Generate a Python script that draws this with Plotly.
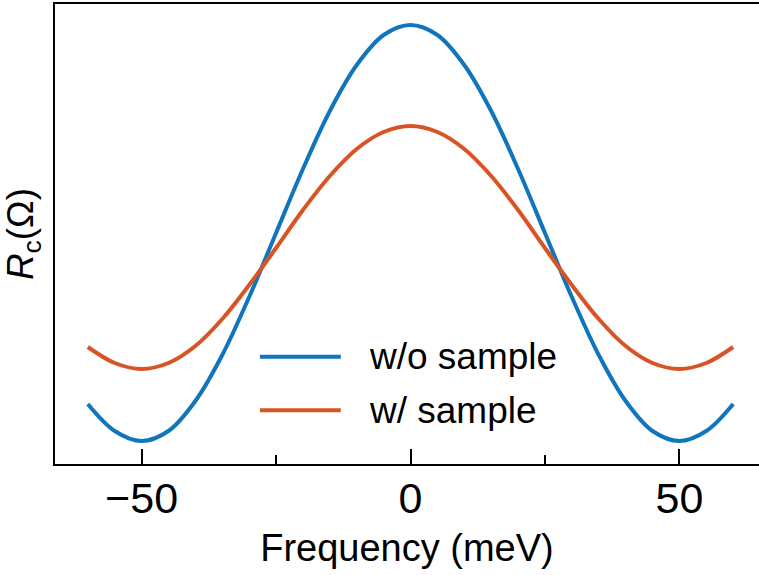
import plotly.graph_objects as go

# Data (arbitrary resistance units)
freq = [-60, -55, -50, -45, -40, -35, -30, -25, -20, -15, -10, -5, 0,
        5, 10, 15, 20, 25, 30, 35, 40, 45, 50, 55, 60]
r_without = [60, 33, 23, 33, 63, 109, 167, 231, 295, 353, 399, 429, 439,
             429, 399, 353, 295, 231, 167, 109, 63, 33, 23, 33, 60]
r_with = [117, 101, 95, 101, 118, 145, 179, 216, 254, 288, 315, 332, 338,
          332, 315, 288, 254, 216, 179, 145, 118, 101, 95, 101, 117]

series_names = ["w/o sample", "w/ sample"]
series_colors = ["#1075bc", "#d95424"]

major_ticks = [-50, 0, 50]
major_labels = ["\u221250", "0", "50"]
minor_ticks = [-25, 25]

FONT = "Arial, Liberation Sans, sans-serif"

fig = go.Figure()
for yv, name, col in zip([r_without, r_with], series_names, series_colors):
    fig.add_trace(go.Scatter(x=freq, y=yv, mode="lines", name=name,
                             line=dict(color=col, width=4, shape="spline", smoothing=1.0),
                             showlegend=False))

# custom legend (long line samples)
leg_y = [0.233, 0.117]
for name, col, ly in zip(series_names, series_colors, leg_y):
    fig.add_shape(type="line", xref="paper", yref="paper",
                  x0=0.291, x1=0.406, y0=ly, y1=ly,
                  line=dict(color=col, width=4))
    fig.add_annotation(xref="paper", yref="paper", x=0.443, y=ly,
                       text=name, showarrow=False, xanchor="left", yanchor="middle",
                       font=dict(family=FONT, size=37, color="black"))

fig.update_layout(
    width=759, height=575,
    margin=dict(l=55, r=0, t=4, b=111, autoexpand=False),
    paper_bgcolor="white", plot_bgcolor="white",
    font=dict(family=FONT, color="black"),
    xaxis=dict(range=[-66.1, 64.8], showgrid=False, zeroline=False,
               showline=True, linecolor="black", linewidth=2, mirror=True,
               automargin=False,
               tickmode="array", tickvals=major_ticks, ticktext=major_labels,
               ticks="inside", ticklen=15, tickwidth=2, tickcolor="black",
               ticklabelstandoff=-5,
               tickfont=dict(family=FONT, size=43, color="black"),
               minor=dict(tickmode="array", tickvals=minor_ticks, ticks="inside",
                          ticklen=9, tickwidth=2, tickcolor="black"),
               title=dict(text="Frequency (meV)", standoff=14,
                          font=dict(family=FONT, size=38, color="black"))),
    yaxis=dict(range=[0, 460], showgrid=False, zeroline=False,
               showline=True, linecolor="black", linewidth=2, mirror=False,
               automargin=False,
               showticklabels=False, ticks="",
               title=dict(text="<i>R</i><sub>c</sub>(\u03a9)", standoff=13,
                          font=dict(family=FONT, size=37, color="black"))),
)

fig.write_html("out.html", config={"displayModeBar": False},
               post_script="document.body.style.margin='0';document.body.style.overflow='hidden';")
